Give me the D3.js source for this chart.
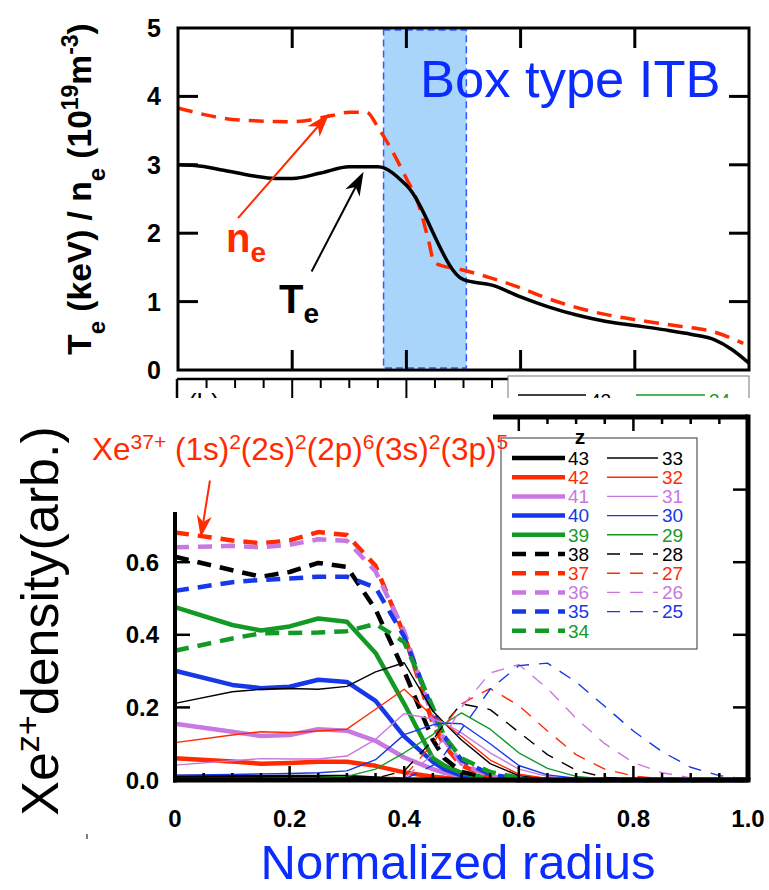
<!DOCTYPE html>
<html><head><meta charset="utf-8">
<script src="https://cdn.jsdelivr.net/npm/d3@7"></script>
<style>
body{margin:0;background:#fff}
svg{display:block}
text{font-family:"Liberation Sans",Arial,Helvetica,sans-serif}
</style>
</head><body>
<svg id="c" width="769" height="890"></svg>
<script>
// ---------------- DATA ----------------
// (a) top panel
const teR = [0,0.03,0.08,0.13,0.17,0.2,0.25,0.3,0.35,0.4,0.5,0.55,0.6,0.65,0.7,0.75,0.8,0.85,0.9,0.94,0.97,1.0];
const teV = [3.0,2.99,2.92,2.84,2.80,2.80,2.88,2.97,2.97,2.70,1.32,1.24,1.07,0.92,0.80,0.71,0.65,0.59,0.52,0.44,0.30,0.10];
const neR = [0,0.033,0.1,0.2,0.27,0.3,0.33,0.35,0.36,0.40,0.42,0.44,0.448,0.46,0.49,0.55,0.6,0.646,0.704,0.762,0.821,0.879,0.937,0.99];
const neV = [3.83,3.76,3.66,3.63,3.72,3.77,3.77,3.55,3.42,2.80,2.45,1.85,1.58,1.53,1.48,1.34,1.20,1.05,0.90,0.79,0.71,0.64,0.56,0.39];
const itbBox = [0.36, 0.505];
const topYTicks = [0,1,2,3,4,5];
const topXTicks = [0.2,0.4,0.6,0.8];

// (b) bottom panel: radius grid and Xe charge-state densities
const radius = [0,0.1,0.15,0.2,0.25,0.3,0.35,0.4,0.45,0.47,0.5,0.55,0.6,0.65,0.7,0.75,0.8,0.85,0.9,0.95,1.0];
const z43 = [0.008,0.008,0.008,0.008,0.008,0.008,0.004,0.001,0,0,0,0,0,0,0,0,0,0,0,0,0];
const z42 = [0.06,0.051,0.045,0.047,0.05,0.05,0.039,0.021,0.009,0.006,0.003,0.001,0,0,0,0,0,0,0,0,0];
const z41 = [0.155,0.133,0.121,0.124,0.14,0.136,0.108,0.062,0.03,0.02,0.01,0.003,0,0,0,0,0,0,0,0,0];
const z40 = [0.301,0.262,0.253,0.257,0.276,0.27,0.218,0.12,0.05,0.03,0.012,0.003,0,0,0,0,0,0,0,0,0];
const z39 = [0.476,0.427,0.412,0.423,0.445,0.436,0.35,0.21,0.06,0.04,0.02,0.004,0,0,0,0,0,0,0,0,0];
const z38 = [0.615,0.578,0.56,0.573,0.598,0.587,0.47,0.30,0.11,0.06,0.022,0.006,0,0,0,0,0,0,0,0,0];
const z37 = [0.682,0.66,0.652,0.66,0.683,0.675,0.59,0.40,0.155,0.095,0.04,0.008,0,0,0,0,0,0,0,0,0];
const z36 = [0.641,0.645,0.641,0.648,0.663,0.659,0.575,0.41,0.17,0.11,0.045,0.01,0.001,0,0,0,0,0,0,0,0];
const z35 = [0.521,0.545,0.551,0.555,0.56,0.56,0.53,0.395,0.19,0.12,0.055,0.015,0.003,0,0,0,0,0,0,0,0];
const z34 = [0.356,0.39,0.404,0.405,0.406,0.41,0.43,0.38,0.2,0.12,0.06,0.022,0.006,0,0,0,0,0,0,0,0];
const z33 = [0.211,0.243,0.25,0.252,0.25,0.258,0.298,0.323,0.19,0.157,0.11,0.045,0.012,0.004,0,0,0,0,0,0,0];
const z32 = [0.103,0.124,0.133,0.131,0.135,0.14,0.195,0.25,0.175,0.157,0.12,0.055,0.016,0.004,0,0,0,0,0,0,0];
const z31 = [0.041,0.053,0.059,0.058,0.058,0.066,0.112,0.183,0.168,0.157,0.13,0.075,0.03,0.01,0.002,0,0,0,0,0,0];
const z30 = [0.013,0.015,0.017,0.018,0.02,0.025,0.056,0.125,0.152,0.157,0.155,0.1,0.04,0.014,0.005,0.001,0,0,0,0,0];
const z29 = [0.004,0.005,0.005,0.006,0.007,0.01,0.03,0.075,0.125,0.155,0.185,0.14,0.075,0.032,0.01,0.003,0,0,0,0,0];
const z28 = [0,0,0,0,0,0.001,0.005,0.025,0.11,0.155,0.21,0.194,0.132,0.07,0.027,0.007,0.002,0,0,0,0];
const z27 = [0,0,0,0,0,0,0.002,0.01,0.1,0.15,0.21,0.252,0.205,0.135,0.07,0.03,0.011,0.003,0,0,0];
const z26 = [0,0,0,0,0,0,0.001,0.005,0.07,0.12,0.2,0.295,0.318,0.252,0.17,0.1,0.048,0.02,0.006,0.001,0];
const z25 = [0,0,0,0,0,0,0,0.002,0.04,0.07,0.14,0.25,0.315,0.322,0.27,0.203,0.135,0.078,0.035,0.012,0.002];
const chargeStates = [43,42,41,40,39,38,37,36,35,34,33,32,31,30,29,28,27,26,25];
const densities = [z43,z42,z41,z40,z39,z38,z37,z36,z35,z34,z33,z32,z31,z30,z29,z28,z27,z26,z25];
const botYTicks = [0,0.2,0.4,0.6];
const botXTickLabels = ["0","0.2","0.4","0.6","0.8","1.0"];

// ---------------- STYLE ----------------
const palette = ["#000000","#ff2a00","#c878e0","#1638e8","#139a26"];
function styleOf(z){
  const idx = (43 - z) % 5;
  const thick = z >= 34;
  const dashed = (z <= 38 && z >= 34) || z <= 28;
  return {color: palette[idx], width: thick ? 4.5 : 1.4, dash: dashed ? (thick ? "14,9" : "13,10") : null};
}

const svg = d3.select("#c");
const BLUE = "#0a2cff";

function arrow(g, x1, y1, x2, y2, color, lw, L, W){
  const dx = x2-x1, dy = y2-y1, len = Math.hypot(dx,dy);
  const ux = dx/len, uy = dy/len, px = -uy, py = ux;
  const bx = x2 - ux*L, by = y2 - uy*L;
  const nx = x2 - ux*L*0.72, ny = y2 - uy*L*0.72;
  g.append("line").attr("x1",x1).attr("y1",y1).attr("x2",nx).attr("y2",ny)
    .attr("stroke",color).attr("stroke-width",lw);
  g.append("path").attr("d",`M${x2},${y2}L${bx+px*W/2},${by+py*W/2}L${nx},${ny}L${bx-px*W/2},${by-py*W/2}Z`)
    .attr("fill",color);
}

// ---------------- TOP PANEL ----------------
const xT = d3.scaleLinear().domain([0,1]).range([178,749]);
const yT = d3.scaleLinear().domain([0,5]).range([370,28]);
const gT = svg.append("g");

gT.append("rect").attr("x",xT(itbBox[0])).attr("y",yT(4.97)).attr("width",xT(itbBox[1])-xT(itbBox[0]))
  .attr("height",yT(0.03)-yT(4.97)).attr("fill","#a9d5fb").attr("stroke","#2a5cff")
  .attr("stroke-width",1.5).attr("stroke-dasharray","7,4");
gT.append("text").attr("x",420).attr("y",97).attr("font-size",52.5).attr("fill",BLUE).text("Box type ITB");

const lineT = d3.line().x((d,i)=>xT(d[0])).y(d=>yT(d[1])).curve(d3.curveMonotoneX);
gT.append("path").attr("d",lineT(neR.map((r,i)=>[r,neV[i]]))).attr("fill","none")
  .attr("stroke","#ff2a00").attr("stroke-width",3.5).attr("stroke-dasharray","15,9");
gT.append("path").attr("d",lineT(teR.map((r,i)=>[r,teV[i]]))).attr("fill","none")
  .attr("stroke","#000").attr("stroke-width",3.5).attr("stroke-linejoin","round");

gT.append("rect").attr("x",xT(0)).attr("y",yT(5)).attr("width",xT(1)-xT(0)).attr("height",yT(0)-yT(5))
  .attr("fill","none").attr("stroke","#000").attr("stroke-width",3);
topXTicks.forEach(t=>{
  gT.append("line").attr("x1",xT(t)).attr("x2",xT(t)).attr("y1",yT(0)).attr("y2",yT(0)-20).attr("stroke","#000").attr("stroke-width",3);
  gT.append("line").attr("x1",xT(t)).attr("x2",xT(t)).attr("y1",yT(5)).attr("y2",yT(5)+20).attr("stroke","#000").attr("stroke-width",3);
});
topYTicks.forEach(t=>{
  if(t>0 && t<5){
    gT.append("line").attr("x1",xT(0)).attr("x2",xT(0)+20).attr("y1",yT(t)).attr("y2",yT(t)).attr("stroke","#000").attr("stroke-width",3);
    gT.append("line").attr("x1",xT(1)).attr("x2",xT(1)-20).attr("y1",yT(t)).attr("y2",yT(t)).attr("stroke","#000").attr("stroke-width",3);
  }
  gT.append("text").attr("x",161).attr("y",yT(t)).attr("dy","0.36em").attr("text-anchor","end")
    .attr("font-size",25).attr("font-weight","bold").text(t);
});
const yl = gT.append("text").attr("transform","translate(91,189) rotate(-90)").attr("text-anchor","middle")
  .attr("font-size",33.5).attr("font-weight","bold");
yl.append("tspan").text("T");
yl.append("tspan").attr("baseline-shift","sub").attr("font-size",24).text("e");
yl.append("tspan").text(" (keV) / n");
yl.append("tspan").attr("baseline-shift","sub").attr("font-size",24).text("e");
yl.append("tspan").text(" (10");
yl.append("tspan").attr("baseline-shift","super").attr("font-size",23).text("19");
yl.append("tspan").text("m");
yl.append("tspan").attr("baseline-shift","super").attr("font-size",23).text("-3");
yl.append("tspan").text(")");

arrow(gT, xT(0.105), yT(2.22), xT(0.265), yT(3.75), "#ff2a00", 2, 24, 16);
arrow(gT, xT(0.234), yT(1.44), xT(0.325), yT(2.9), "#000", 2, 24, 16);
const nl = gT.append("text").attr("x",226).attr("y",252).attr("font-size",40).attr("font-weight","bold").attr("fill","#ff2a00");
nl.append("tspan").text("n"); nl.append("tspan").attr("dy",10).attr("font-size",28).text("e");
const tl = gT.append("text").attr("x",279).attr("y",313).attr("font-size",40).attr("font-weight","bold").attr("fill","#000");
tl.append("tspan").text("T"); tl.append("tspan").attr("dy",10).attr("font-size",28).text("e");

// ---------------- STRIP (cut-off panel fragment) ----------------
const defs = svg.append("defs");
defs.append("clipPath").attr("id","strip").append("rect").attr("x",0).attr("y",372).attr("width",769).attr("height",26);
const gS = svg.append("g").attr("clip-path","url(#strip)");
gS.append("line").attr("x1",177).attr("x2",508).attr("y1",379).attr("y2",379).attr("stroke","#000").attr("stroke-width",2.5);
gS.append("line").attr("x1",177).attr("x2",177).attr("y1",379).attr("y2",400).attr("stroke","#000").attr("stroke-width",2.5);
d3.range(0.05,0.56,0.05).forEach(t=>{
  const major = Math.abs(t/0.2 - Math.round(t/0.2))<1e-6;
  gS.append("line").attr("x1",xT(t)).attr("x2",xT(t)).attr("y1",379).attr("y2",major?400:388).attr("stroke","#000").attr("stroke-width",2);
});
gS.append("text").attr("x",188).attr("y",412).attr("font-size",26).text("(b)");
gS.append("rect").attr("x",508).attr("y",376).attr("width",241).attr("height",60).attr("fill","#fff").attr("stroke","#777").attr("stroke-width",1);
gS.append("line").attr("x1",518).attr("x2",586).attr("y1",395).attr("y2",395).attr("stroke","#000").attr("stroke-width",1.4);
gS.append("text").attr("x",590).attr("y",407).attr("font-size",19).text("43");
gS.append("line").attr("x1",636).attr("x2",705).attr("y1",395).attr("y2",395).attr("stroke","#139a26").attr("stroke-width",1.4);
gS.append("text").attr("x",709).attr("y",407).attr("font-size",19).attr("fill","#139a26").text("34");

// ---------------- BOTTOM PANEL ----------------
const xB = d3.scaleLinear().domain([0,1]).range([175,748]);
const yB = d3.scaleLinear().domain([0,1]).range([780,417]);
const gB = svg.append("g");
const lineB = d3.line().x((d,i)=>xB(radius[i])).y(d=>yB(d));

densities.forEach((vals,k)=>{
  const s = styleOf(chargeStates[k]);
  const p = gB.append("path").attr("d",lineB(vals)).attr("fill","none").attr("stroke",s.color)
    .attr("stroke-width",s.width).attr("stroke-linejoin","round");
  if(s.dash) p.attr("stroke-dasharray",s.dash);
});

const fw = 5;
gB.append("line").attr("x1",xB(0)).attr("x2",xB(0)).attr("y1",512).attr("y2",yB(0)+fw/2).attr("stroke","#000").attr("stroke-width",4);
gB.append("line").attr("x1",xB(0)-2).attr("x2",xB(1)+fw/2).attr("y1",yB(0)).attr("y2",yB(0)).attr("stroke","#000").attr("stroke-width",fw);
gB.append("line").attr("x1",xB(1)).attr("x2",xB(1)).attr("y1",yB(1)-fw/2).attr("y2",yB(0)).attr("stroke","#000").attr("stroke-width",fw);
gB.append("line").attr("x1",493).attr("x2",xB(1)).attr("y1",yB(1)).attr("y2",yB(1)).attr("stroke","#000").attr("stroke-width",fw);
d3.range(0.05,0.99,0.05).forEach(t=>{
  const major = Math.abs(t/0.2 - Math.round(t/0.2))<1e-6;
  const L = major?14:7;
  gB.append("line").attr("x1",xB(t)).attr("x2",xB(t)).attr("y1",yB(0)).attr("y2",yB(0)-L).attr("stroke","#000").attr("stroke-width",2.5);
  if(xB(t)>500) gB.append("line").attr("x1",xB(t)).attr("x2",xB(t)).attr("y1",yB(1)).attr("y2",yB(1)+L).attr("stroke","#000").attr("stroke-width",2.5);
});
[0.2,0.4,0.6,0.8].forEach(t=>{
  if(yB(t)>512) gB.append("line").attr("x1",xB(0)).attr("x2",xB(0)+15).attr("y1",yB(t)).attr("y2",yB(t)).attr("stroke","#000").attr("stroke-width",2.5);
  gB.append("line").attr("x1",xB(1)).attr("x2",xB(1)-15).attr("y1",yB(t)).attr("y2",yB(t)).attr("stroke","#000").attr("stroke-width",2.5);
});
botYTicks.forEach(t=>{
  gB.append("text").attr("x",159).attr("y",yB(t)).attr("dy","0.36em").attr("text-anchor","end")
    .attr("font-size",24).attr("font-weight","bold").text(t.toFixed(1));
});
botXTickLabels.forEach((lab,i)=>{
  gB.append("text").attr("x",xB(i*0.2)).attr("y",827).attr("text-anchor","middle")
    .attr("font-size",24).attr("font-weight","bold").text(lab);
});
gB.append("text").attr("x",458).attr("y",879).attr("text-anchor","middle").attr("font-size",49).attr("fill",BLUE).text("Normalized radius");
const byl = gB.append("text").attr("transform","translate(58,621) rotate(-90)").attr("text-anchor","middle").attr("font-size",52);
byl.append("tspan").text("Xe");
byl.append("tspan").attr("baseline-shift","super").attr("font-size",34).text("z+");
byl.append("tspan").text("density(arb.)");
gB.append("line").attr("x1",87).attr("x2",87).attr("y1",834).attr("y2",839).attr("stroke","#000").attr("stroke-width",1);

// legend
const lg = gB.append("g");
lg.append("rect").attr("x",501).attr("y",438).attr("width",196).attr("height",211).attr("fill","#fff").attr("stroke","#555").attr("stroke-width",1.2);
lg.append("text").attr("x",580).attr("y",444).attr("text-anchor","middle").attr("font-size",21).attr("font-weight","bold").text("z");
chargeStates.forEach((z,k)=>{
  const s = styleOf(z);
  const col = z>=34 ? 0 : 1;
  const row = col===0 ? (43-z) : (33-z);
  const y = 458 + row*19.2;
  const x0 = col===0 ? 512 : 607, x1 = col===0 ? 565 : 658, tx = col===0 ? 568 : 662;
  const l = lg.append("line").attr("x1",x0).attr("x2",x1).attr("y1",y).attr("y2",y).attr("stroke",s.color).attr("stroke-width",s.width);
  if(s.dash) l.attr("stroke-dasharray",s.dash);
  lg.append("text").attr("x",tx).attr("y",y).attr("dy","0.36em").attr("font-size",19).attr("fill",s.color).text(z);
});

// annotation Xe37+ (drawn over legend edge, as in the reference)
const an = gB.append("text").attr("x",92).attr("y",460).attr("font-size",31.5).attr("fill","#ff2a00");
an.append("tspan").text("Xe");
an.append("tspan").attr("baseline-shift","super").attr("font-size",21).text("37+");
[["(1s)","2"],["(2s)","2"],["(2p)","6"],["(3s)","2"],["(3p)","5"]].forEach((p,i)=>{
  an.append("tspan").text((i===0?" ":"")+p[0]);
  an.append("tspan").attr("baseline-shift","super").attr("font-size",21).text(p[1]);
});
arrow(gB, xB(0.061), yB(0.825), xB(0.045), yB(0.668), "#ff2a00", 2, 22, 15);
</script>
</body></html>
